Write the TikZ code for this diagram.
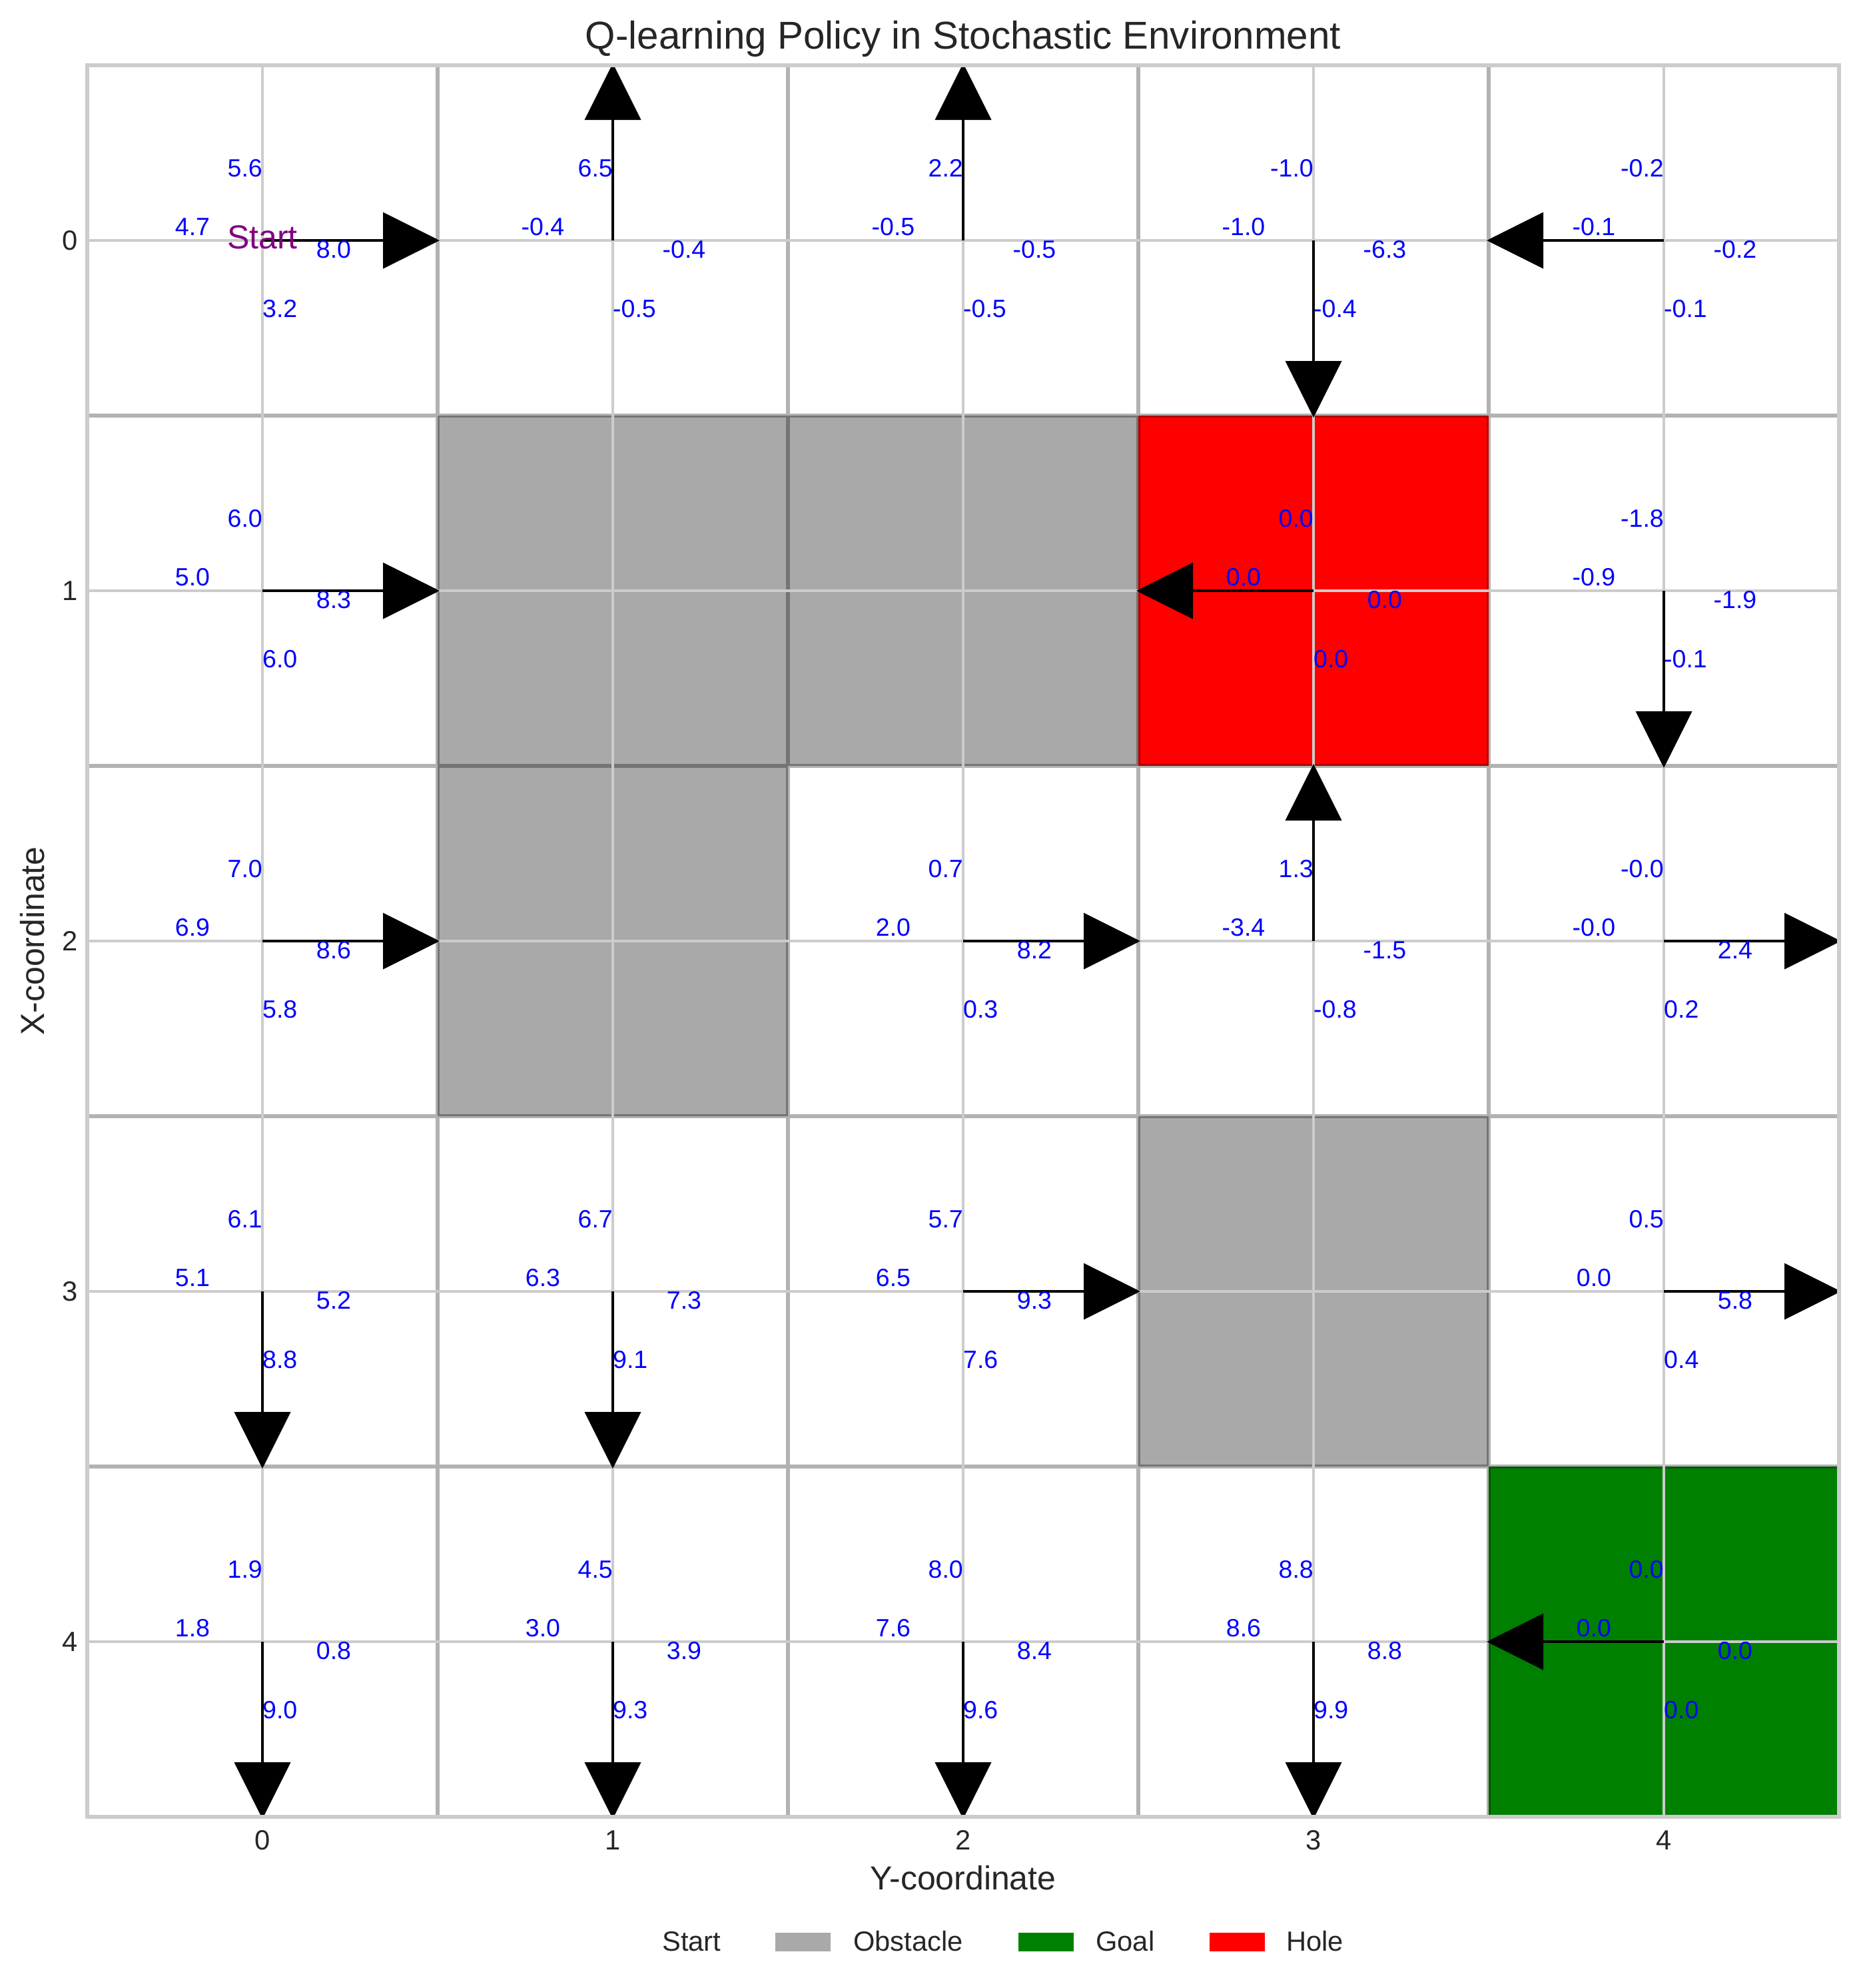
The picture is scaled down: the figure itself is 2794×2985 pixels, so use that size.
\documentclass[tikz,border=0pt]{standalone}
\usepackage{fontspec}
\setmainfont{Liberation Sans}
\usetikzlibrary{arrows.meta}
\definecolor{qblue}{HTML}{0000FF}
\definecolor{txtgray}{HTML}{262626}
\definecolor{gridgray}{HTML}{CCCCCC}
\definecolor{obsgray}{HTML}{A9A9A9}
\definecolor{goalgreen}{HTML}{008000}
\definecolor{holered}{HTML}{FF0000}
\definecolor{startpurple}{HTML}{800080}
\begin{document}
\begin{tikzpicture}[x=1pt,y=-1pt,
  cellfill/.style={draw=none},
  celledge/.style={draw=black,draw opacity=0.3,line width=6.5pt},
  gridline/.style={draw=gridgray,line width=3.3pt},
  spine/.style={draw=gridgray,line width=5.2pt},
  polarrow/.style={draw=black,line width=4.4pt,-{Triangle[length=85pt,width=85pt,line width=0pt]}},
  qval/.style={text=qblue,inner sep=0pt,font=\fontsize{37.5}{45}\selectfont},
  ticklab/.style={text=txtgray,inner sep=0pt,font=\fontsize{41.7}{50}\selectfont},
  axlab/.style={text=txtgray,inner sep=0pt,font=\fontsize{50}{60}\selectfont},
  titlelab/.style={text=txtgray,inner sep=0pt,font=\fontsize{58.3}{70}\selectfont},
  leglab/.style={text=txtgray,inner sep=0pt,anchor=base west,font=\fontsize{41.7}{50}\selectfont},
  startlab/.style={text=startpurple,inner sep=0pt,font=\fontsize{50}{60}\selectfont}]
\useasboundingbox (0,0) rectangle (2794,2985);
\fill[white] (0,0) rectangle (2794,2985);
% cell fills
\foreach \r/\c/\fc in {0/0/white,0/1/white,0/2/white,0/3/white,0/4/white,
  1/0/white,1/1/obsgray,1/2/obsgray,1/3/holered,1/4/white,
  2/0/white,2/1/obsgray,2/2/white,2/3/white,2/4/white,
  3/0/white,3/1/white,3/2/white,3/3/obsgray,3/4/white,
  4/0/white,4/1/white,4/2/white,4/3/white,4/4/goalgreen}{
  \path[cellfill,fill=\fc] ({131+526*\c},{98+526*\r}) rectangle ++(526,526);
}
% cell edges (one translucent stroke)
\draw[celledge] \foreach \k in {0,...,5}{ ({131+526*\k},98) -- ({131+526*\k},2728) (131,{98+526*\k}) -- (2761,{98+526*\k}) };
% grid lines
\foreach \k in {0,...,4}{
  \draw[gridline] ({394+526*\k},98) -- ({394+526*\k},2728);
  \draw[gridline] (131,{361+526*\k}) -- (2761,{361+526*\k});
}
% policy arrows
\foreach \r/\c/\dx/\dy in {0/0/1/0,0/1/0/-1,0/2/0/-1,0/3/0/1,0/4/-1/0,
  1/0/1/0,1/3/-1/0,1/4/0/1,
  2/0/1/0,2/2/1/0,2/3/0/-1,2/4/1/0,
  3/0/0/1,3/1/0/1,3/2/1/0,3/4/1/0,
  4/0/0/1,4/1/0/1,4/2/0/1,4/3/0/1,4/4/-1/0}{
  \coordinate (ctr-\r-\c) at ({394+526*\c},{361+526*\r});
  \coordinate (tip-\r-\c) at ({394+526*\c+266*\dx},{361+526*\r+266*\dy});
  \draw[polarrow] (ctr-\r-\c) -- (tip-\r-\c);
}
% spines
\draw[spine] (131,98) rectangle (2761,2728);
% start label
\node[startlab,anchor=base] (startlabel) at (394,373) {Start};
% Q values
\foreach \r/\c/\qu/\ql/\qr/\qd in {0/0/5.6/4.7/8.0/3.2,
  0/1/6.5/-0.4/-0.4/-0.5, 0/2/2.2/-0.5/-0.5/-0.5, 0/3/-1.0/-1.0/-6.3/-0.4,
  0/4/-0.2/-0.1/-0.2/-0.1, 1/0/6.0/5.0/8.3/6.0, 1/3/0.0/0.0/0.0/0.0,
  1/4/-1.8/-0.9/-1.9/-0.1, 2/0/7.0/6.9/8.6/5.8, 2/2/0.7/2.0/8.2/0.3,
  2/3/1.3/-3.4/-1.5/-0.8, 2/4/-0.0/-0.0/2.4/0.2, 3/0/6.1/5.1/5.2/8.8,
  3/1/6.7/6.3/7.3/9.1, 3/2/5.7/6.5/9.3/7.6, 3/4/0.5/0.0/5.8/0.4,
  4/0/1.9/1.8/0.8/9.0, 4/1/4.5/3.0/3.9/9.3, 4/2/8.0/7.6/8.4/9.6,
  4/3/8.8/8.6/8.8/9.9, 4/4/0.0/0.0/0.0/0.0}{
  \node[qval,anchor=base east] (qu-\r-\c) at ({394+526*\c},{361+526*\r-96}) {\qu};
  \node[qval,anchor=base] (ql-\r-\c) at ({394+526*\c-105},{361+526*\r-8}) {\ql};
  \node[qval,anchor=base] (qr-\r-\c) at ({394+526*\c+107},{361+526*\r+26}) {\qr};
  \node[qval,anchor=base west] (qd-\r-\c) at ({394+526*\c},{361+526*\r+115}) {\qd};
}
% tick labels
\foreach \k in {0,...,4}{
  \node[ticklab,anchor=east] (ytick-\k) at (117,{361+526*\k}) {\k};
  \node[ticklab,anchor=base] (xtick-\k) at ({394+526*\k},2777) {\k};
}
% axis labels and title
\node[axlab,anchor=base] (xlabel) at (1446,2837) {Y-coordinate};
\node[axlab,anchor=base,rotate=90] (ylabel) at (66,1413) {X-coordinate};
\node[titlelab,anchor=base] (title) at (1446,73) {Q-learning Policy in Stochastic Environment};
% legend
\node[leglab] (legstart) at (994,2929) {Start};
\fill[obsgray] (1164,2902) rectangle (1247,2930);
\node[leglab] (legobs) at (1281,2929) {Obstacle};
\fill[goalgreen] (1529,2902) rectangle (1612,2930);
\node[leglab] (leggoal) at (1645,2929) {Goal};
\fill[holered] (1816,2902) rectangle (1899,2930);
\node[leglab] (leghole) at (1931,2929) {Hole};
\end{tikzpicture}
\end{document}
